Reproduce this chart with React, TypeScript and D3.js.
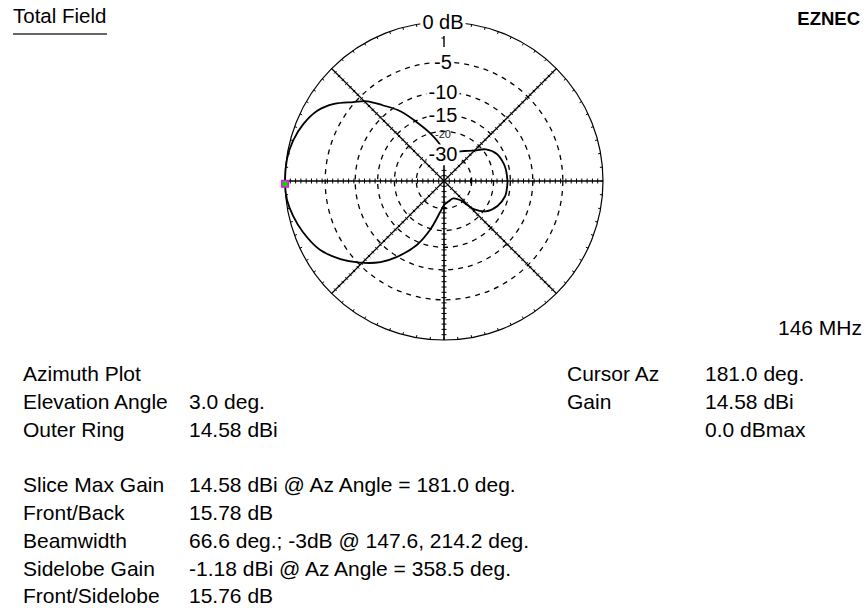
import React, { useRef, useEffect } from 'react';
import * as d3 from 'd3';

// pattern: azimuth (deg, 0 = right, counter-clockwise) and gain relative to max (dB)
const patternAz = [0, 10, 16, 27, 37, 46, 56, 70, 80, 90, 96, 106, 115, 122, 129, 134, 139, 145, 151, 158, 165, 172, 181, 187, 193, 200, 209, 217, 224, 232, 238, 247, 254, 263, 270, 282, 298, 310, 314, 317, 324, 335, 346, 352, 358.5];
const patternDb = [-15.77, -15.9, -16.1, -16.9, -19, -22.8, -25.4, -27.9, -28.3, -31, -25.4, -20, -15.3, -11.3, -8.4, -6.2, -4.8, -2.9, -1.6, -0.8, -0.3, -0.05, 0, -0.1, -0.45, -1.0, -1.95, -3.5, -5.2, -7.45, -9.8, -14.2, -19.5, -27.9, -32.4, -34.7, -35.9, -31.9, -27, -23, -19.3, -17, -15.9, -15.8, -15.76];

const ringDb = [-5, -10, -15, -20, -30];
const ringLabels = ['0 dB', '-5', '-10', '-15', '-30'];
const ringLabelDb = [0, -5, -10, -15, -30];
const hiddenLabel = '-20'; // mostly overdrawn in the original
const spokeAz = [45, 135, 225, 315];

const leftLabels = ['Azimuth Plot', 'Elevation Angle', 'Outer Ring', '', 'Slice Max Gain', 'Front/Back', 'Beamwidth', 'Sidelobe Gain', 'Front/Sidelobe'];
const leftValues = ['', '3.0 deg.', '14.58 dBi', '', '14.58 dBi @ Az Angle = 181.0 deg.', '15.78 dB', '66.6 deg.; -3dB @ 147.6, 214.2 deg.', '-1.18 dBi @ Az Angle = 358.5 deg.', '15.76 dB'];
const rightLabels = ['Cursor Az', 'Gain', ''];
const rightValues = ['181.0 deg.', '14.58 dBi', '0.0 dBmax'];

const W = 867;
const H = 608;
const FONT = '"Liberation Sans", Arial, sans-serif';

const App = () => {
  const svgRef = useRef<SVGSVGElement>(null);

  useEffect(() => {
    const svg = d3.select(svgRef.current);
    svg.selectAll('*').remove();

    const cx = 444, cy = 181, R = 159;
    // ARRL log scale: 0.89 per 2 dB -> radius is exponential in dB
    const rLog = d3.scaleLog().domain([R * Math.pow(0.89, 15), R]).range([-30, 0]);
    const rad = (db: number) => rLog.invert(db);
    const toRad = (az: number) => ((90 - az) * Math.PI) / 180; // lineRadial angle
    const px = (az: number, r: number) => cx + r * Math.cos((az * Math.PI) / 180);
    const py = (az: number, r: number) => cy - r * Math.sin((az * Math.PI) / 180);

    const g = svg.append('g');

    // dashed rings
    g.selectAll('circle.ring')
      .data(ringDb)
      .enter().append('circle')
      .attr('class', 'ring')
      .attr('cx', cx).attr('cy', cy)
      .attr('r', d => rad(d))
      .style('fill', 'none')
      .style('stroke', '#000')
      .style('stroke-width', 1.3)
      .style('stroke-dasharray', '5 5');

    // outer ring
    g.append('circle')
      .attr('cx', cx).attr('cy', cy).attr('r', R)
      .style('fill', 'none').style('stroke', '#000').style('stroke-width', 1.2);

    // outer ring ticks every 5 deg
    g.selectAll('line.rt')
      .data(d3.range(0, 360, 5))
      .enter().append('line')
      .attr('x1', d => px(d, R)).attr('y1', d => py(d, R))
      .attr('x2', d => px(d, R - 2.5)).attr('y2', d => py(d, R - 2.5))
      .style('stroke', '#000').style('stroke-width', 1);

    // axes + diagonal spokes (upper vertical axis only below the labels)
    [0, 90, 180, 270].concat(spokeAz).forEach(az => {
      const rEnd = az === 90 ? rad(-30) - 12 : R;
      const main = az % 90 === 0;
      g.append('line')
        .attr('x1', cx).attr('y1', cy)
        .attr('x2', px(az, rEnd)).attr('y2', py(az, rEnd))
        .style('stroke', '#000').style('stroke-width', main ? 1.6 : 1.3);
      const steps = d3.range(R / 30, rEnd, R / 30);
      const a = (az * Math.PI) / 180;
      const nx = Math.sin(a), ny = Math.cos(a);
      const tl = main ? 2.5 : 1.8;
      g.selectAll(null)
        .data(steps)
        .enter().append('line')
        .attr('x1', d => px(az, d) - nx * tl).attr('y1', d => py(az, d) - ny * tl)
        .attr('x2', d => px(az, d) + nx * tl).attr('y2', d => py(az, d) + ny * tl)
        .style('stroke', '#000').style('stroke-width', 1);
    });
    // small axis fragment just under the 0 dB label
    g.append('line').attr('x1', cx).attr('x2', cx).attr('y1', 36).attr('y2', 47)
      .style('stroke', '#000').style('stroke-width', 1.4);
    g.append('line').attr('x1', cx - 2.5).attr('x2', cx).attr('y1', 38).attr('y2', 38)
      .style('stroke', '#000').style('stroke-width', 1);

    // -20 label sits under the pattern, only fragments show
    g.append('text')
      .attr('x', cx - 1).attr('y', cy - rad(-20) + 3)
      .attr('dy', '0.36em')
      .attr('text-anchor', 'middle')
      .style('font-family', FONT).style('font-size', '11px')
      .style('fill', '#222')
      .text(hiddenLabel);

    // pattern
    const pts: [number, number][] = patternAz.map((a, i) => [a, patternDb[i]]);
    const line = d3.lineRadial<[number, number]>()
      .angle(d => toRad(d[0]))
      .radius(d => rad(d[1]))
      .curve(d3.curveCatmullRomClosed);
    g.append('path')
      .attr('transform', `translate(${cx},${cy})`)
      .attr('d', line(pts))
      .style('fill', 'none')
      .style('stroke', '#000')
      .style('stroke-width', 1.8);

    // cursor marker at max
    const mx = px(181, R), my = py(181, R);
    g.append('rect').attr('x', mx - 4).attr('y', my - 4).attr('width', 8).attr('height', 8).style('fill', '#ff00ff');
    g.append('rect').attr('x', mx - 2.5).attr('y', my - 2.5).attr('width', 5).attr('height', 5).style('fill', '#00e000');

    // ring labels with opaque background
    ringLabels.forEach((t, i) => {
      const y = cy - rad(ringLabelDb[i]);
      const lg = g.append('g');
      const txt = lg.append('text')
        .attr('x', cx - 1).attr('y', y)
        .attr('dy', '0.36em')
        .attr('text-anchor', 'middle')
        .style('font-family', FONT).style('font-size', '20px')
        .text(t);
      const bb = (txt.node() as SVGTextElement).getBBox();
      lg.insert('rect', 'text')
        .attr('x', bb.x - 2).attr('y', y - 9)
        .attr('width', bb.width + 4).attr('height', 18)
        .style('fill', '#fff');
    });

    // header texts
    svg.append('text').attr('x', 13).attr('y', 23)
      .style('font-family', FONT).style('font-size', '20.5px').text('Total Field');
    svg.append('line').attr('x1', 13).attr('x2', 107).attr('y1', 34).attr('y2', 34)
      .style('stroke', '#333').style('stroke-width', 1.6);
    svg.append('text').attr('x', 860).attr('y', 25).attr('text-anchor', 'end')
      .style('font-family', FONT).style('font-size', '18.5px').style('font-weight', 'bold').text('EZNEC');
    svg.append('text').attr('x', 862).attr('y', 335).attr('text-anchor', 'end')
      .style('font-family', FONT).style('font-size', '21px').text('146 MHz');

    // info table
    const rowY = (i: number) => 381 + i * 27.8;
    const cols: [string[], number][] = [[leftLabels, 23], [leftValues, 189], [rightLabels, 567], [rightValues, 705]];
    cols.forEach(([arr, x]) => {
      svg.append('g').selectAll('text')
        .data(arr)
        .enter().append('text')
        .attr('x', x).attr('y', (d, i) => rowY(i))
        .style('font-family', FONT).style('font-size', '21px')
        .text(d => d);
    });
  }, []);

  return (
    <svg ref={svgRef} width={W} height={H} style={{ position: 'absolute', left: 0, top: 0, background: '#fff' }} />
  );
};

export default App;
